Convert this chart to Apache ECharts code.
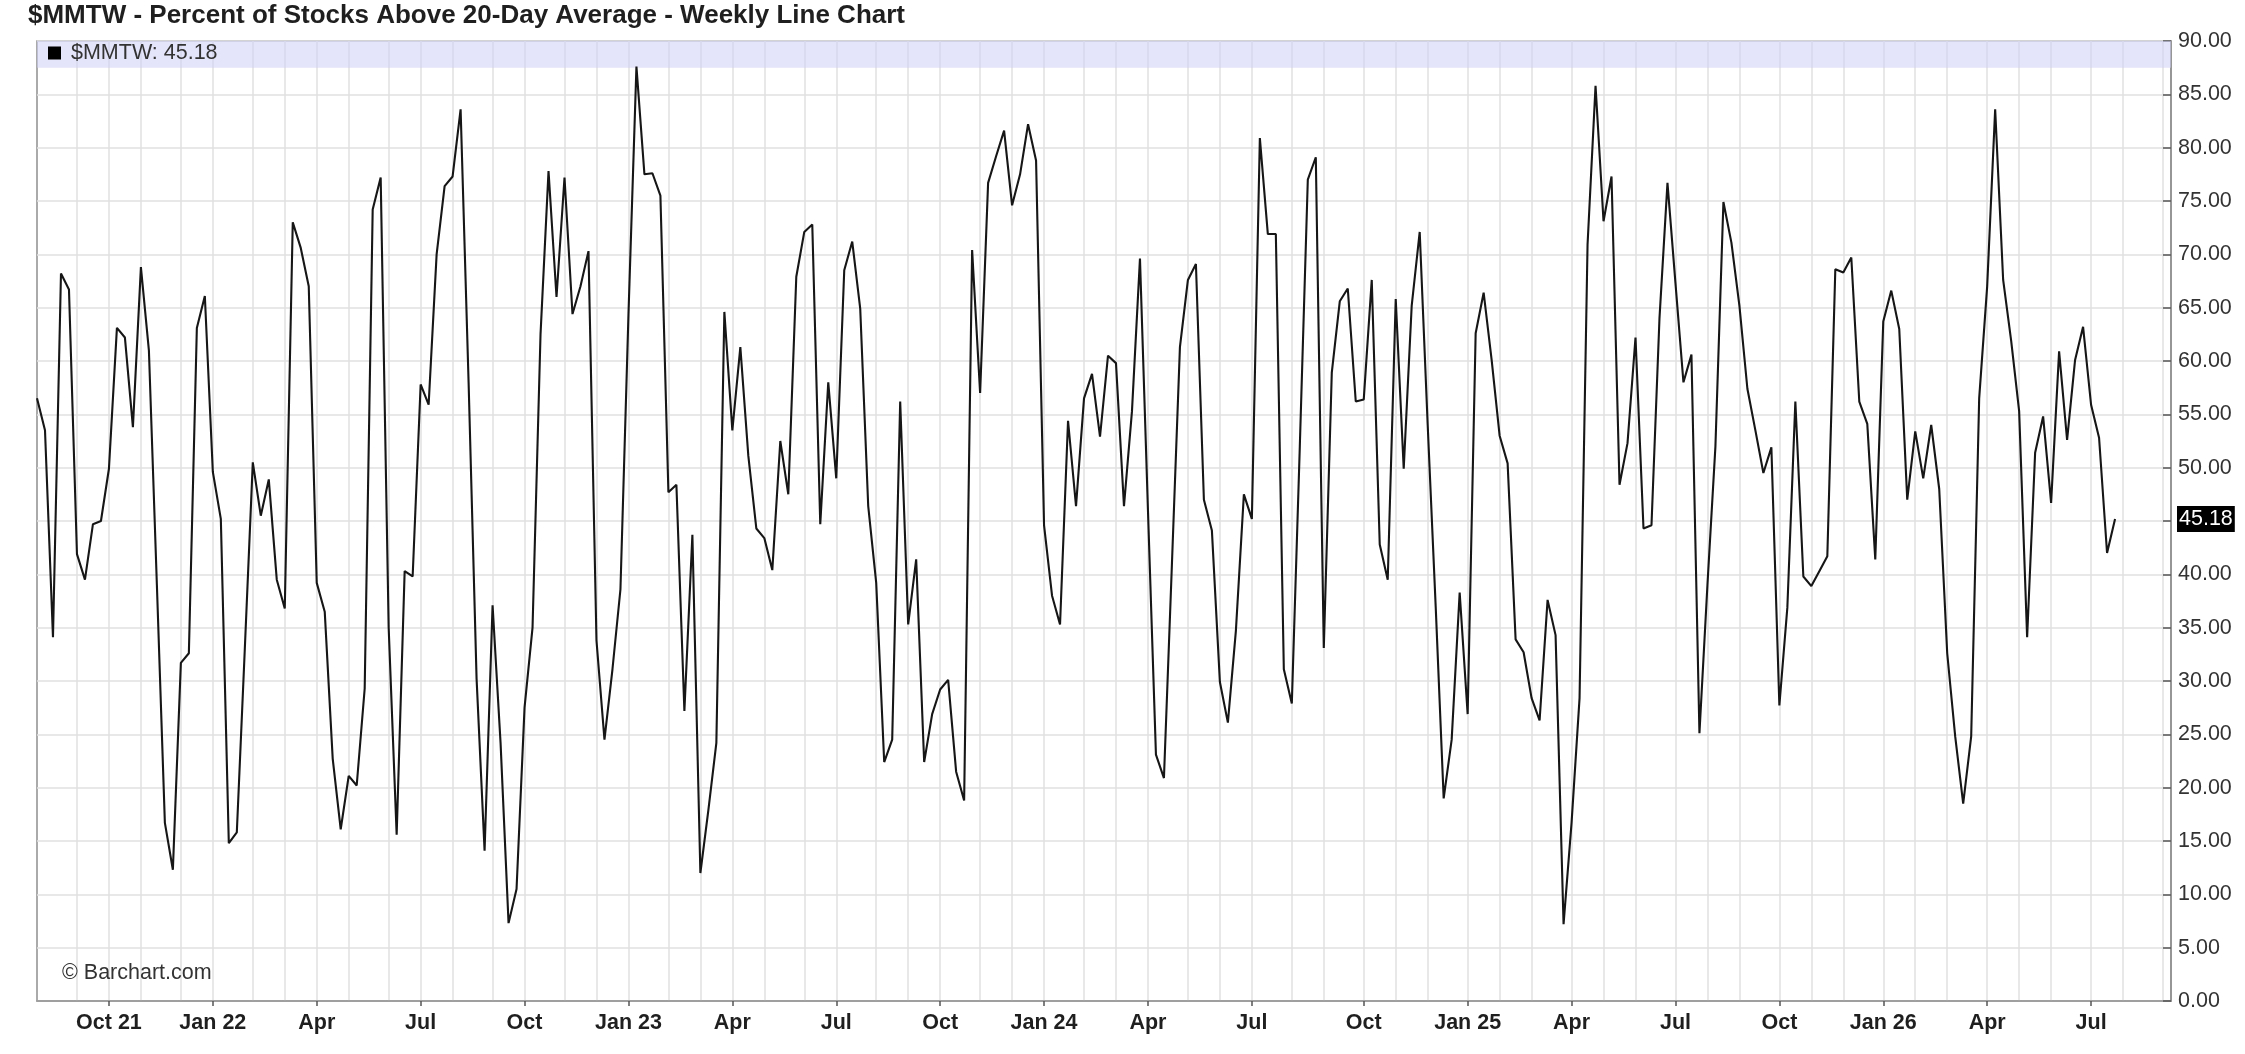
<!DOCTYPE html>
<html>
<head>
<meta charset="utf-8">
<script src="https://cdn.jsdelivr.net/npm/echarts@6/dist/echarts.min.js"></script>
<style>
html,body{margin:0;padding:0;background:#fff;}
#chart{width:2245px;height:1054px;}
</style>
</head>
<body>
<div id="chart"></div>
<script>
// ---- data ----
const symbolName = '$MMTW';
const titleText = '$MMTW - Percent of Stocks Above 20-Day Average - Weekly Line Chart';
const creditText = '\u00A9 Barchart.com';
const firstWeek = [2021, 7, 2];   // Monday, Aug 2 2021
const emptyWeeksAfter = 7;        // empty space at right end of the time axis
const monthNames = ['Jan','Feb','Mar','Apr','May','Jun','Jul','Aug','Sep','Oct','Nov','Dec'];
const yMin = 0, yMax = 90, yStep = 5;
const bandFrom = 87.5, bandTo = 90;

const values = [
  56.5, 53.5, 34.1, 68.2, 66.7, 41.9, 39.5, 44.7, 45.0, 49.9,
  63.1, 62.2, 53.8, 68.8, 61.0, 39.0, 16.7, 12.3, 31.7, 32.6,
  63.1, 66.1, 49.6, 45.2, 14.8, 15.8, 33.0, 50.5, 45.5, 48.9,
  39.5, 36.8, 73.0, 70.6, 67.0,
  39.2, 36.5, 22.7, 16.1, 21.1, 20.2, 29.3, 74.2, 77.2, 35.0,
  15.6, 40.3, 39.8, 57.8, 55.9, 70.0, 76.4, 77.3, 83.6, 58.0,
  30.2, 14.1, 37.1, 24.2, 7.3, 10.5, 27.5, 35.0, 62.5, 77.8,
  66.0, 77.2, 64.4, 67.0,
  70.3, 33.8, 24.5, 31.1, 38.6, 64.3, 87.6, 77.5, 77.6, 75.5,
  47.7, 48.4, 27.2, 43.7, 12.0, 17.9, 24.2, 64.6, 53.5, 61.3,
  51.1, 44.3, 43.4, 40.4, 52.5, 47.5, 67.9, 72.1, 72.8, 44.7,
  58.0, 49.0, 68.5,
  71.2, 64.9, 46.4, 39.2, 22.4, 24.5, 56.2, 35.3, 41.4, 22.4,
  26.9, 29.2, 30.1, 21.5, 18.8, 70.4, 57.0, 76.7, 79.2, 81.6,
  74.6, 77.5, 82.2, 78.8, 44.6, 38.0, 35.3, 54.4, 46.4, 56.5,
  58.8, 52.9, 60.5, 59.8,
  46.4, 55.3, 69.6, 46.0, 23.1, 20.9, 41.0, 61.3, 67.6, 69.1,
  47.0, 44.1, 29.9, 26.1, 34.7, 47.5, 45.2, 80.9, 71.9, 71.9,
  31.1, 27.9, 52.0, 77.0, 79.1, 33.1, 58.9, 65.6, 66.8, 56.2,
  56.4, 67.6, 42.8, 39.5,
  65.8, 49.9, 65.2, 72.1, 54.0, 37.0, 19.0, 24.5, 38.3, 26.9,
  62.6, 66.4, 60.1, 53.0, 50.4, 33.9, 32.7, 28.4, 26.3, 37.6,
  34.3, 7.2, 16.7, 28.4, 70.9, 85.8, 73.1, 77.3, 48.4, 52.3,
  62.2, 44.3, 44.6,
  64.0, 76.7, 67.3, 58.0, 60.6, 25.1, 39.0, 52.0, 74.9, 71.1,
  65.2, 57.4, 53.5, 49.5, 51.9, 27.7, 36.9, 56.2, 39.8, 38.9,
  40.3, 41.7, 68.6, 68.3, 69.7, 56.2, 54.1, 41.4, 63.7, 66.6,
  63.0, 47.0, 53.4, 49.0,
  54.0, 48.0, 32.6, 24.8, 18.5, 24.8, 56.5, 67.0, 83.6, 67.6,
  61.9, 55.3, 34.1, 51.4, 54.8, 46.7, 60.9, 52.6, 60.1, 63.2,
  55.9, 52.8, 42.0, 45.18
];

// ---- weekly categories ----
const DAY = 86400000;
const t0 = Date.UTC(firstWeek[0], firstWeek[1], firstWeek[2]);
const nWeeks = values.length + emptyWeeksAfter;
const categories = [];
const months = [];
const years = [];
for (let i = 0; i < nWeeks; i++) {
  const d = new Date(t0 + i * 7 * DAY);
  months.push(d.getUTCMonth());
  years.push(d.getUTCFullYear());
  categories.push(d.toISOString().slice(0, 10));
}
const isMonthStart = i => i > 0 && months[i] !== months[i - 1];
const isQuarterStart = i => isMonthStart(i) && months[i] % 3 === 0;
let firstQuarter = -1;
for (let i = 0; i < nWeeks; i++) { if (isQuarterStart(i)) { firstQuarter = i; break; } }

const last = values[values.length - 1];
const FONT = "'Liberation Sans', Arial, Helvetica, sans-serif";

const chart = echarts.init(document.getElementById('chart'), null, {renderer: 'canvas'});
chart.setOption({
  animation: false,
  backgroundColor: '#ffffff',
  title: [
    {
      text: titleText, left: 28, top: 3, padding: 0,
      textStyle: {fontFamily: FONT, fontSize: 26, fontWeight: 'bold', color: '#1f1f1f'}
    },
    {
      text: creditText, left: 62, top: 962, padding: 0,
      textStyle: {fontFamily: FONT, fontSize: 21.5, fontWeight: 'normal', color: '#333'}
    }
  ],
  legend: {
    data: [symbolName], left: 48, top: 42, padding: 0,
    icon: 'rect', itemWidth: 13, itemHeight: 13,
    itemStyle: {color: '#000'},
    textStyle: {fontFamily: FONT, fontSize: 21.5, color: '#333', padding: [0, 0, 0, 5]},
    formatter: n => n + ': ' + last.toFixed(2),
    selectedMode: false
  },
  grid: {
    left: 37, right: 74, top: 41, bottom: 53,
    show: true, borderColor: '#8f8f8f', borderWidth: 1.5
  },
  xAxis: {
    type: 'category', data: categories, boundaryGap: false,
    axisLine: {show: true, lineStyle: {color: '#8f8f8f', width: 1.5}},
    axisTick: {show: true, inside: false, length: 5, interval: (i) => isQuarterStart(i),
               lineStyle: {color: '#555', width: 1.5}},
    axisLabel: {
      interval: (i) => isQuarterStart(i),
      formatter: (v, i) => {
        const m = months[i];
        const yy = String(years[i]).slice(2);
        return (m === 0 || i === firstQuarter) ? monthNames[m] + ' ' + yy : monthNames[m];
      },
      fontFamily: FONT, fontSize: 21.5, fontWeight: 'bold', color: '#1f1f1f', margin: 11
    },
    splitLine: {show: true, interval: (i) => isMonthStart(i),
                lineStyle: {color: '#e0e0e0', width: 1.5}}
  },
  yAxis: {
    type: 'value', position: 'right', min: yMin, max: yMax, interval: yStep,
    axisLine: {show: true, lineStyle: {color: '#8f8f8f', width: 1.5}},
    axisTick: {show: true, inside: true, length: 8, lineStyle: {color: '#555', width: 1.5}},
    axisLabel: {formatter: v => v.toFixed(2), fontFamily: FONT, fontSize: 21.5,
                color: '#333', margin: 7},
    splitLine: {show: true, lineStyle: {color: '#e0e0e0', width: 1.5}}
  },
  series: [{
    name: symbolName, type: 'line', data: values,
    symbol: 'none', showSymbol: false,
    lineStyle: {color: '#161616', width: 2.1},
    itemStyle: {color: '#000'},
    z: 3,
    markArea: {
      silent: true,
      itemStyle: {color: 'rgba(205,205,245,0.55)'},
      data: [[{yAxis: bandFrom}, {yAxis: bandTo}]]
    },
    markLine: {
      silent: true, symbol: ['none', 'none'], animation: false,
      lineStyle: {color: 'rgba(0,0,0,0)', width: 0, type: 'solid'},
      label: {
        show: true, position: 'end', distance: 6,
        formatter: () => last.toFixed(2),
        fontFamily: FONT, fontSize: 21.5, color: '#fff',
        backgroundColor: '#000', padding: [2, 2]
      },
      emphasis: {disabled: true},
      data: [{yAxis: last}]
    }
  }]
});
</script>
</body>
</html>
